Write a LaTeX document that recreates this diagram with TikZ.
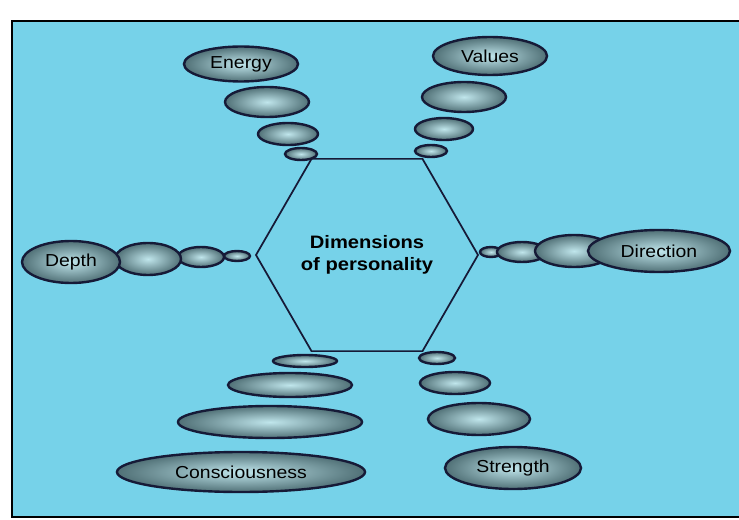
\documentclass[tikz,border=0pt]{standalone}
\usepackage{fontspec}
\setmainfont[FakeStretch=1.12]{Liberation Sans}
\usepackage{xcolor}
\usetikzlibrary{shapes.geometric}

\definecolor{inkblue}{RGB}{22,26,55}
\definecolor{paper}{RGB}{118,210,233}
\definecolor{bubblein}{RGB}{192,230,236}
\definecolor{bubbleout}{RGB}{80,112,118}

\begin{document}
\begin{tikzpicture}[
    x=0.75pt, y=-0.75pt,
    every node/.style={font=\fontsize{13}{15}\selectfont},
    bubble/.style 2 args={ellipse, draw=inkblue, line width=1.8pt, shading=radial,
        inner color=bubblein, outer color=bubbleout,
        minimum width=#1*0.75pt, minimum height=#2*0.75pt, inner sep=0pt},
    hexa/.style={regular polygon, regular polygon sides=6, draw=inkblue, line width=1.3pt,
        minimum size=222*0.75pt, inner sep=0pt, align=center,
        font=\bfseries\fontsize{13.5}{16.5}\selectfont}
]
    \useasboundingbox (0,0) rectangle (739,520);
    \clip (0,0) rectangle (739,520);

    % frame of the figure
    \draw [line width=1.6pt, fill=paper] (12,21) rectangle (775,517);

    \node [hexa] (dims) at (367,255) {Dimensions\\of personality};

    % energy
    \node [bubble={32}{12}] (energyC) at (301,154) {};
    \node [bubble={60}{22}] (energyB) at (288,134) {};
    \node [bubble={84}{30}] (energyA) at (267,102) {};
    \node [bubble={114}{35}] (energy) at (241,64) {Energy};

    % values
    \node [bubble={32}{12}] (valuesC) at (431,151) {};
    \node [bubble={58}{22}] (valuesB) at (444,129) {};
    \node [bubble={84}{30}] (valuesA) at (464,97) {};
    \node [bubble={114}{38}] (values) at (490,56) {Values};

    % depth
    \node [bubble={26}{10}] (depthC) at (237,256) {};
    \node [bubble={46}{20}] (depthB) at (201,257) {};
    \node [bubble={66}{32}] (depthA) at (148,259) {};
    \node [bubble={98}{42}] (depth) at (71,262) {Depth};

    % direction
    \node [bubble={22}{10}] (directionC) at (491,252) {};
    \node [bubble={50}{20}] (directionB) at (522,252) {};
    \node [bubble={78}{32}] (directionA) at (574,251) {};
    \node [bubble={142}{42}] (direction) at (659,251) {Direction};

    % consciousness
    \node [bubble={64}{12}] (consC) at (305,361) {};
    \node [bubble={124}{24}] (consB) at (290,385) {};
    \node [bubble={184}{32}] (consA) at (270,422) {};
    \node [bubble={248}{40}] (cons) at (241,472) {Consciousness};

    % strength
    \node [bubble={36}{12}] (strengthC) at (437,358) {};
    \node [bubble={70}{22}] (strengthB) at (455,383) {};
    \node [bubble={102}{32}] (strengthA) at (479,419) {};
    \node [bubble={136}{42}] (strength) at (513,468) {Strength};

\end{tikzpicture}
\end{document}
